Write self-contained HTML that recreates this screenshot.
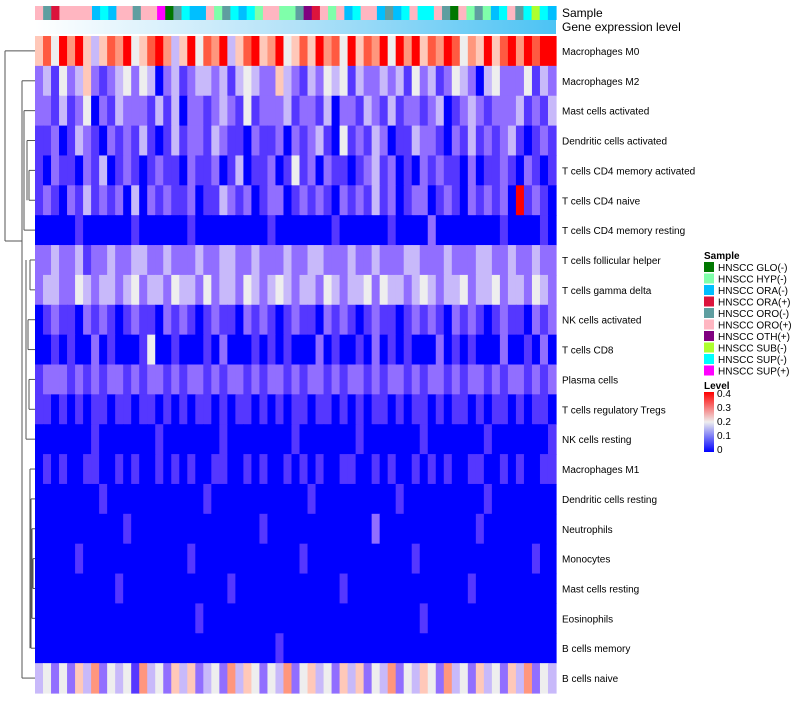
<!DOCTYPE html>
<html><head><meta charset="utf-8"><style>
body{margin:0;background:#fff;width:800px;height:700px;overflow:hidden;font-family:"Liberation Sans",sans-serif}
svg text{font-family:"Liberation Sans",sans-serif}
</style></head><body>
<svg id="chart" width="800" height="700">
<g id="dend" stroke="#555" fill="none" stroke-width="1"></g>
<g id="anno"></g>
<g id="cells"></g>
<g id="labels"></g>
<g id="legend"></g>
</svg>
<script>
const rowNames=["Macrophages M0","Macrophages M2","Mast cells activated","Dendritic cells activated","T cells CD4 memory activated","T cells CD4 naive","T cells CD4 memory resting","T cells follicular helper","T cells gamma delta","NK cells activated","T cells CD8","Plasma cells","T cells regulatory  Tregs","NK cells resting","Macrophages M1","Dendritic cells resting","Neutrophils","Monocytes","Mast cells resting","Eosinophils","B cells memory","B cells naive"];
// digits: value = d*0.05 (0..0.4)
const rowValues=[
"57486853576845786358476835785684575867485768486857687465857868788",
"23142352123424302312332313432253213243413223231423124320342224132",
"22131240213222131302212321412223122130221321312212301232122231213",
"11201321021213101312213211021120212310412132011322102131212310121",
"10211021301210121102112013011201412021101231201021211020112102101",
"12102131212030212112011321201220121210212131201220121021212081210",
"00000100000010000001000000000100000001000000100002000000001000010",
"22322312232233223222322332232223223322232232223322232223322322322",
"23322432332342332433242332432343233243233424332343233423342332432",
"01211021210121102121012110212101211021210121101212102121012110212",
"00101002010001400100010200010101000201001020101000201010002001020",
"12221212122121221212212122121221212212122121221212212122121221212",
"11010101101101101010110101101010110110101011010110101101011010110",
"00000001000000010000000100000000100000001000000010000000100000001",
"01010011001010010101001100101001010100110010100101010011001010011",
"00000000100000000000010000000000001000000000010000000000100000000",
"00000000000100000000000000001000000000000020000000000001000000000",
"00000100000000000001000000000000010000000000000100000000000000100",
"00000000001000000000000010000000000000100000000000000010000000000",
"00000000000000000000100000000000000000000000000010000000000000000",
"00000000000000000000000000000010000000000000000000000000000000000",
"34242536243416342535234263542436245342535243624354263425342536243"];
const sampleCodes="PTRPPPPDCDPPTPPMGTCDDPATCDCAPPAATURPAPDCPPDTDCPCCPTGPATADCPTCLCD";
const sampleColors={G:"#007700",A:"#7FFFAA",D:"#00BFFF",R:"#DC143C",T:"#5F9EA0",P:"#FFB6C1",U:"#800080",L:"#ADFF2F",C:"#00FFFF",M:"#FF00FF"};
const legendSample=[["HNSCC GLO(-)","G"],["HNSCC HYP(-)","A"],["HNSCC ORA(-)","D"],["HNSCC ORA(+)","R"],["HNSCC ORO(-)","T"],["HNSCC ORO(+)","P"],["HNSCC OTH(+)","U"],["HNSCC SUB(-)","L"],["HNSCC SUP(-)","C"],["HNSCC SUP(+)","M"]];
const levelTicks=[0,0.1,0.2,0.3,0.4];

const NS="http://www.w3.org/2000/svg";
function mk(t,a,p){const e=document.createElementNS(NS,t);for(const k in a)e.setAttribute(k,a[k]);p.appendChild(e);return e;}
const X0=35,X1=556,Y0=36,Y1=693;
const nC=rowValues[0].length,nR=rowNames.length;
const cw=(X1-X0)/nC,rh=(Y1-Y0)/nR;
const xs=i=>X0+i*cw, ys=r=>Y0+r*rh;
const stops=[[0,0,255],[85,55,255],[145,110,255],[200,185,250],[238,238,238],[255,200,185],[255,150,125],[255,90,65],[255,0,0]];
function col(v){const p=Math.max(0,Math.min(v,0.4))/0.05;const i=Math.min(Math.floor(p),7),t=p-i;
 const c=stops[i].map((a,k)=>Math.round(a+(stops[i+1][k]-a)*t));return `rgb(${c})`;}
const cells=document.getElementById('cells');
rowValues.forEach((s,r)=>{for(let i=0;i<s.length;i++){const v=(+s[i])*0.05;
 const e=mk('rect',{x:xs(i),y:ys(r),width:cw+0.6,height:rh+0.6,fill:col(v)},cells);
 
 }});
const anno=document.getElementById('anno');
const sw=(X1-X0)/sampleCodes.length;
for(let i=0;i<sampleCodes.length;i++){const e=mk('rect',{x:X0+i*sw,y:6,width:sw+0.6,height:14,fill:sampleColors[sampleCodes[i]]},anno);
 
 }
const defs=mk('defs',{},anno);
const g=mk('linearGradient',{id:'gx',x1:0,x2:1,y1:0,y2:0},defs);
mk('stop',{offset:0,'stop-color':'#ffffff'},g);mk('stop',{offset:0.5,'stop-color':'#b3e2f8'},g);mk('stop',{offset:1,'stop-color':'#4cc3f4'},g);
const gb=mk('rect',{x:X0,y:20,width:X1-X0,height:14,fill:'url(#gx)'},anno);


const lab=document.getElementById('labels');
function txt(s,x,y,sz,p,w){const e=mk('text',{x:x,y:y,'font-size':sz,fill:'#000','font-weight':w||'normal'},p);e.textContent=s;return e;}
let t=txt('Sample',562,17,12,lab);
t=txt('Gene expression level',562,31,12,lab);
rowNames.forEach((n,r)=>{const e=txt(n,562,ys(r)+rh/2+4,10,lab);
 
 });
const d=document.getElementById('dend');
const yc=r=>ys(r)+rh/2;
const segs=[[5,yc(0),35,yc(0)],[5,yc(0),5,241],[5,241,22,241],[22,yc(1),22,yc(21)],[22,yc(21),35,yc(21)],
[22,yc(1),35,yc(1)],[24,yc(2),24,yc(6)],[24,yc(2),35,yc(2)],[27,yc(3),27,yc(5)],[27,yc(3),35,yc(3)],[29,yc(4),29,yc(5)],[29,yc(4),35,yc(4)],[29,yc(5),35,yc(5)],[24,yc(6),35,yc(6)],
[26,yc(7),26,yc(13)],[30,yc(7),30,yc(8)],[30,yc(7),35,yc(7)],[30,yc(8),35,yc(8)],[28,yc(9),28,yc(10)],[28,yc(9),35,yc(9)],[28,yc(10),35,yc(10)],[29,yc(11),29,yc(12)],[29,yc(11),35,yc(11)],[29,yc(12),35,yc(12)],[26,yc(13),35,yc(13)],
[30,yc(14),30,yc(20)],[30,yc(14),35,yc(14)],[31,yc(15),31,yc(20)],[31,yc(15),35,yc(15)],[32,yc(16),32,yc(19)],[32,yc(16),35,yc(16)],[33,yc(17),33,yc(18)],[33,yc(17),35,yc(17)],[33,yc(18),35,yc(18)],[32,yc(19),35,yc(19)],[31,yc(20),35,yc(20)]];
segs.forEach(s=>mk('line',{x1:s[0],y1:s[1],x2:s[2],y2:s[3]},d));
const lg=document.getElementById('legend');
txt('Sample',704,259,10,lg,'bold');
legendSample.forEach((e,i)=>{mk('rect',{x:704,y:262+i*11.5,width:10,height:10,fill:sampleColors[e[1]]},lg);
 const tt=txt(e[0],718,271+i*11.5,10,lg);
 
 });
txt('Level',704,389,10,lg,'bold');
const g2=mk('linearGradient',{id:'lv',x1:0,x2:0,y1:0,y2:1},defs);
mk('stop',{offset:0,'stop-color':'#ff0000'},g2);mk('stop',{offset:0.5,'stop-color':'#eeeeee'},g2);mk('stop',{offset:1,'stop-color':'#0000ff'},g2);
const cb=mk('rect',{x:704,y:392,width:10,height:60,fill:'url(#lv)'},lg);


levelTicks.forEach(v=>{const y=452-v/0.4*56;txt(String(v),717,y+1,10,lg);});
</script>
</body></html>
